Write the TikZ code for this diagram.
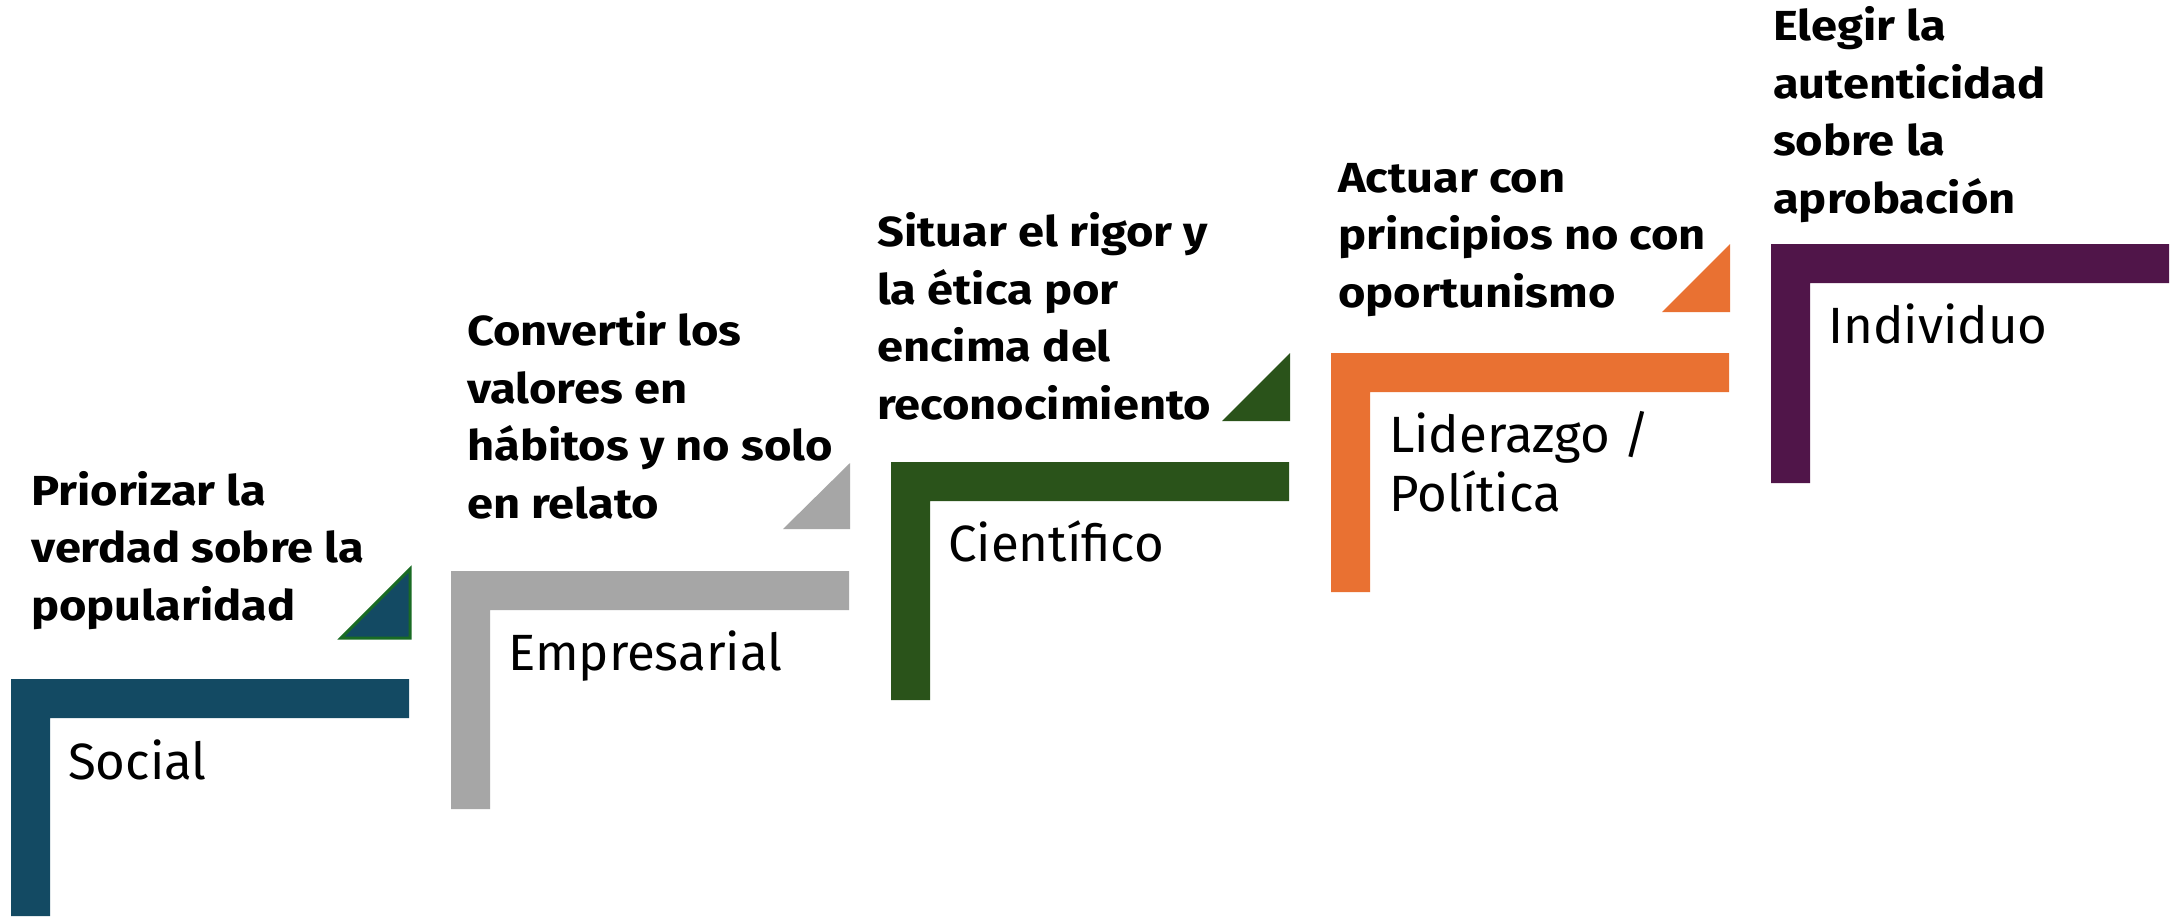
\documentclass[tikz,border=0pt]{standalone}
\usepackage{fontspec}
\setmainfont{Fira Sans}[BoldFeatures={FakeStretch=1.12}]
\definecolor{cblue}{HTML}{134A63}
\definecolor{cgray}{HTML}{A6A6A6}
\definecolor{cgreen}{HTML}{2A531A}
\definecolor{corange}{HTML}{E97132}
\definecolor{cpurple}{HTML}{501549}
\definecolor{coutline}{HTML}{196B24}
\begin{document}
\begin{tikzpicture}[x=1pt,y=-1pt,
  goal/.style={anchor=base west, inner sep=0pt, align=left, font=\fontsize{42}{57.5}\selectfont\bfseries},
  lab/.style={anchor=base west, inner sep=0pt, align=left, font=\fontsize{51}{59}\selectfont}]
\useasboundingbox (0,0) rectangle (2180,916);
\fill[white] (0,0) rectangle (2180,916);
% L shapes
\fill[cblue]   (11,679) -- (409,679) -- (409,718) -- (50,718) -- (50,916) -- (11,916) -- cycle;
\fill[cgray]   (451,571) -- (849,571) -- (849,610) -- (490,610) -- (490,809) -- (451,809) -- cycle;
\fill[cgreen]  (891,462) -- (1289,462) -- (1289,501) -- (930,501) -- (930,700) -- (891,700) -- cycle;
\fill[corange] (1331,353) -- (1729,353) -- (1729,392) -- (1370,392) -- (1370,592) -- (1331,592) -- cycle;
\fill[cpurple] (1771,244) -- (2169,244) -- (2169,283) -- (1810,283) -- (1810,483) -- (1771,483) -- cycle;
% triangles
\filldraw[fill=cblue, draw=coutline, line width=3pt] (341,638) -- (410,638) -- (410,569) -- cycle;
\fill[cgray]   (783,529) -- (850,529) -- (850,463) -- cycle;
\fill[cgreen]  (1222,421) -- (1290,421) -- (1290,353) -- cycle;
\fill[corange] (1662,312) -- (1730,312) -- (1730,244) -- cycle;
% labels
\node[lab] (l1) at (68,779) {Social};
\node[lab] (l2) at (508,670) {Empresarial};
\node[lab] (l3) at (948,561) {Científico};
\node[lab] (l4) at (1389,511) {Liderazgo /\\Política};
\node[lab] (l5) at (1828,343) {Individuo};
% goals (anchored at the baseline of their last line)
\node[goal] (g1) at (31,620) {Priorizar la\\verdad sobre la\\popularidad};
\node[goal] (g2) at (467,518) {Convertir los\\valores en\\hábitos y no solo\\en relato};
\node[goal] (g3) at (877,419) {Situar el rigor y\\la ética por\\encima del\\reconocimiento};
\node[goal] (g4) at (1338,307) {Actuar con\\principios no con\\oportunismo};
\node[goal] (g5) at (1773,213) {Elegir la\\autenticidad\\sobre la\\aprobación};
\end{tikzpicture}
\end{document}
